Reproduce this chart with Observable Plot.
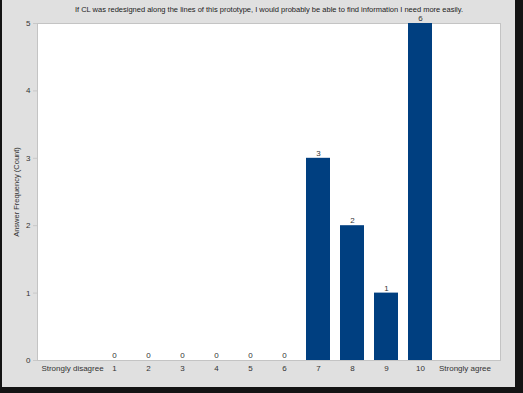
<!DOCTYPE html>
<html>
<head>
<meta charset="utf-8">
<script src="https://cdn.jsdelivr.net/npm/d3@7"></script>
<script src="https://cdn.jsdelivr.net/npm/@observablehq/plot@0.6"></script>
<style>
  html, body { margin: 0; padding: 0; background: #141414; width: 523px; height: 393px; overflow: hidden; }
  #panel { position: absolute; left: 2px; top: 0px; width: 513px; height: 387px; background: #e0e0e0; }
  #panel svg { overflow: visible; }
</style>
</head>
<body>
<div id="panel"></div>
<script>
const title = "If CL was redesigned along the lines of this prototype, I would probably be able to find information I need more easily.";
const categories = ["Strongly disagree", "1", "2", "3", "4", "5", "6", "7", "8", "9", "10", "Strongly agree"];
const scoreLabels = ["1", "2", "3", "4", "5", "6", "7", "8", "9", "10"];
const counts = [0, 0, 0, 0, 0, 0, 3, 2, 1, 6];
const yTicks = [0, 1, 2, 3, 4, 5];
const yLabel = "Answer Frequency (Count)";

const data = scoreLabels.map((c, i) => ({category: c, count: counts[i]}));

const font = "'Liberation Sans', Arial, sans-serif";
const chart = Plot.plot({
  width: 513,
  height: 387,
  marginTop: 23,
  marginLeft: 35,
  marginRight: 15,
  marginBottom: 27,
  insetLeft: 27,
  insetRight: 29.4,
  style: {fontFamily: font, fontSize: "8px", color: "#333", background: "transparent", overflow: "visible"},
  x: {type: "band", domain: categories, paddingInner: 0.3, paddingOuter: 0},
  y: {domain: [0, 5], clamp: true},
  marks: [
    Plot.frame({fill: "white", stroke: "#c4c4c4"}),
    Plot.barY(data.filter(d => d.count > 0), {x: "category", y: "count", fill: "#003f80"}),
    Plot.text(data, {x: "category", y: "count", text: d => String(d.count), dy: -5, fill: "#333", fontSize: 8}),
    Plot.axisY({ticks: yTicks, tickFormat: d3.format("d"), tickSize: 4, tickPadding: 3, stroke: "#c8c8c8", fill: "#333", label: null}),
    Plot.axisY({ticks: [], label: yLabel, labelAnchor: "center", labelArrow: "none", labelOffset: 24, fill: "#333", fontSize: 7.5}),
    Plot.axisX({ticks: scoreLabels, tickSize: 0, tickPadding: 5, label: null, fill: "#333"}),
    Plot.axisX({ticks: ["Strongly disagree"], tickSize: 0, tickPadding: 5, label: null, dx: -8, fill: "#333"}),
    Plot.axisX({ticks: ["Strongly agree"], tickSize: 0, tickPadding: 5, label: null, dx: 10.5, fill: "#333"}),
    Plot.text([title], {frameAnchor: "top", lineAnchor: "middle", dy: -14, fontSize: 7.5, fill: "#222"})
  ]
});
document.getElementById("panel").appendChild(chart);
</script>
</body>
</html>
